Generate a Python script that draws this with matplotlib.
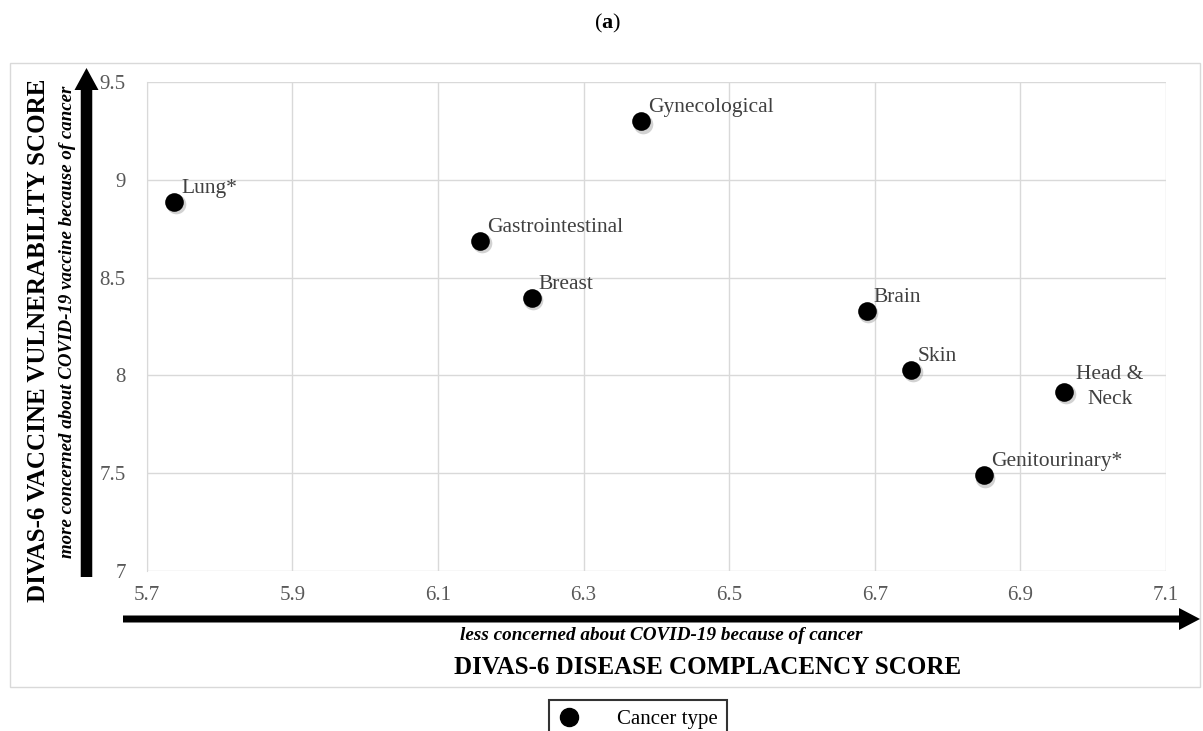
import matplotlib
matplotlib.use("Agg")
import matplotlib.pyplot as plt
from matplotlib.patches import Rectangle, FancyArrow
from matplotlib.lines import Line2D
import matplotlib.transforms as mtransforms

plt.rcParams['font.family'] = ['Liberation Serif', 'DejaVu Serif']
plt.rcParams['mathtext.fontset'] = 'custom'
plt.rcParams['mathtext.rm'] = 'Liberation Serif'
plt.rcParams['mathtext.bf'] = 'Liberation Serif:bold'

cancer_types = ["Lung*", "Gastrointestinal", "Breast", "Gynecological", "Brain",
                "Skin", "Head &\nNeck", "Genitourinary*"]
complacency = [5.738, 6.158, 6.229, 6.379, 6.689, 6.750, 6.96, 6.850]
vulnerability = [8.888, 8.689, 8.397, 9.30, 8.33, 8.03, 7.917, 7.49]
x_ticks = [5.7, 5.9, 6.1, 6.3, 6.5, 6.7, 6.9, 7.1]
y_ticks = [7, 7.5, 8, 8.5, 9, 9.5]
y_tick_labels = ["7", "7.5", "8", "8.5", "9", "9.5"]

W, H = 1203, 731
fig = plt.figure(figsize=(W / 100, H / 100), dpi=100)

def fx(px):
    return px / W

def fy(py):
    return 1 - py / H

# outer frame
fig.patches.append(Rectangle((fx(10), fy(687)), fx(1200) - fx(10), fy(63) - fy(687),
                             transform=fig.transFigure, fill=False, edgecolor="#d9d9d9", lw=1.0))

fig.text(fx(608), fy(23), r"($\mathbf{a}$)", ha="center", va="center", fontsize=16)

ax = fig.add_axes([fx(146.7), fy(571), fx(1166) - fx(146.7), fy(82) - fy(571)])
ax.set_xlim(5.7, 7.1)
ax.set_ylim(7, 9.5)
ax.set_xticks(x_ticks)
ax.set_xticklabels([f"{v:.1f}" for v in x_ticks])
ax.set_yticks(y_ticks)
ax.set_yticklabels(y_tick_labels)
ax.grid(True, color="#d9d9d9", lw=1.0)
ax.set_axisbelow(True)
for s in ax.spines.values():
    s.set_visible(False)
ax.spines['left'].set_visible(True)
ax.spines['left'].set_color("#d9d9d9")
ax.tick_params(length=0, labelsize=15, colors="#595959")
ax.tick_params(axis='x', pad=11)
ax.tick_params(axis='y', pad=15)

shadow_tr = ax.transData + mtransforms.ScaledTranslation(1.5 / 100, -2.5 / 100, fig.dpi_scale_trans)
ax.scatter(complacency, vulnerability, s=200, color="#7f7f7f", alpha=0.35, zorder=2,
           transform=shadow_tr, linewidths=0)
ax.scatter(complacency, vulnerability, s=180, color="black", zorder=3, linewidths=0)

for name, xv, yv in zip(cancer_types, complacency, vulnerability):
    if "\n" in name:
        first, second = name.split("\n")
        ax.annotate(first, (xv, yv), xytext=(33, 9), textcoords="offset points",
                    ha="center", va="baseline", fontsize=15.5, color="#404040")
        ax.annotate(second, (xv, yv), xytext=(33, -9), textcoords="offset points",
                    ha="center", va="baseline", fontsize=15.5, color="#404040")
    else:
        ax.annotate(name, (xv, yv), xytext=(5, 6.5), textcoords="offset points",
                    ha="left", va="baseline", fontsize=15.5, color="#404040")

# arrows
fig.patches.append(FancyArrow(fx(86.5), fy(577), 0, fy(68) - fy(577), width=7 / H,
                              head_width=24 / W, head_length=22 / H, length_includes_head=True,
                              transform=fig.transFigure, color="black", lw=0))
fig.patches.append(FancyArrow(fx(123), fy(619), fx(1200) - fx(123), 0, width=7 / H,
                              head_width=22 / H, head_length=21 / W, length_includes_head=True,
                              transform=fig.transFigure, color="black", lw=0))

fig.text(fx(39), fy(340), "DIVAS-6 VACCINE VULNERABILITY SCORE", rotation=90,
         ha="center", va="center", fontsize=18, fontweight="bold")
fig.text(fx(68), fy(322), "more concerned about COVID-19 vaccine because of cancer", rotation=90,
         ha="center", va="center", fontsize=13.6, fontweight="bold", style="italic")
fig.text(fx(661), fy(636), "less concerned about COVID-19 because of cancer",
         ha="center", va="center", fontsize=13.8, fontweight="bold", style="italic")
fig.text(fx(708), fy(668), "DIVAS-6 DISEASE COMPLACENCY SCORE",
         ha="center", va="center", fontsize=18, fontweight="bold")

handle = Line2D([], [], marker="o", color="black", linestyle="none", markersize=13)
leg = fig.legend([handle], ["Cancer type"], loc="upper center",
                 bbox_to_anchor=(fx(638), fy(700)), frameon=True, fancybox=False,
                 fontsize=15, handletextpad=1.8, borderpad=0.45, handlelength=1.0,
                 borderaxespad=0)
leg.get_frame().set_edgecolor("black")
leg.get_frame().set_linewidth(1.5)

fig.savefig("out.png", dpi=100)
